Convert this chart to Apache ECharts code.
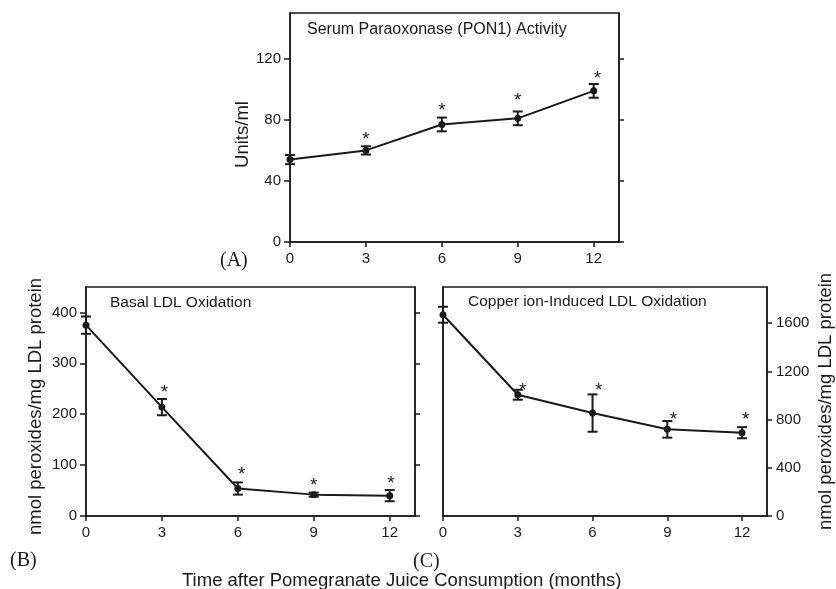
<!DOCTYPE html>
<html>
<head>
<meta charset="utf-8">
<script src="https://cdn.jsdelivr.net/npm/echarts@6/dist/echarts.min.js"></script>
<style>
  html, body { margin: 0; padding: 0; background: #fff; }
  #main { width: 836px; height: 589px; }
</style>
</head>
<body>
<div id="main"></div>
<script>
// 时间点 (months)
var months = [0, 3, 6, 9, 12];
var xTicks = [0, 3, 6, 9, 12];

// (A) Serum PON1 activity, Units/ml
var ponMean = [54, 60, 77, 81, 99];
var ponErr = [3, 2.7, 4.5, 4.5, 4.5];
var ponStarX = [3, 6, 9, 12.15];
var ponStarY = [70, 89, 96, 110];
var ponTicks = [0, 40, 80, 120];

// (B) Basal LDL oxidation
var basalMean = [375, 214, 54, 42, 40];
var basalErr = [17, 16, 12, 4, 11];
var basalStarX = [3.1, 6.15, 9, 12.05];
var basalStarY = [252, 90, 69, 73];
var basalTicks = [0, 100, 200, 300, 400];

// (C) Copper ion-induced LDL oxidation
var copperMean = [1670, 1006, 854, 719, 691];
var copperErr = [66, 41, 155, 69, 46];
var copperStarX = [3.2, 6.25, 9.25, 12.15];
var copperStarY = [1084, 1084, 843, 843];
var copperTicks = [0, 400, 800, 1200, 1600];

var ink = '#1a1a1a';
var sans = 'Liberation Sans, Arial, sans-serif';
var serif = 'Liberation Serif, Times New Roman, serif';

var myChart = echarts.init(document.getElementById('main'));

function pairs(xs, ys) {
    return xs.map(function (x, i) { return [x, ys[i]]; });
}

function errData(mean, err) {
    return months.map(function (m, i) { return [m, mean[i] - err[i], mean[i] + err[i]]; });
}

// 误差线
function errorBars(idx, mean, err) {
    return {
        type: 'custom',
        xAxisIndex: idx,
        yAxisIndex: idx * 2,
        data: errData(mean, err),
        z: 3,
        renderItem: function (params, api) {
            var lo = api.coord([api.value(0), api.value(1)]);
            var hi = api.coord([api.value(0), api.value(2)]);
            var w = 5;
            var st = { stroke: ink, lineWidth: 2 };
            return {
                type: 'group',
                children: [
                    { type: 'line', shape: { x1: lo[0], y1: lo[1], x2: hi[0], y2: hi[1] }, style: st },
                    { type: 'line', shape: { x1: lo[0] - w, y1: lo[1], x2: lo[0] + w, y2: lo[1] }, style: st },
                    { type: 'line', shape: { x1: hi[0] - w, y1: hi[1], x2: hi[0] + w, y2: hi[1] }, style: st }
                ]
            };
        }
    };
}

// 星号
function stars(idx, xs, ys) {
    return {
        type: 'custom',
        xAxisIndex: idx,
        yAxisIndex: idx * 2,
        data: pairs(xs, ys),
        renderItem: function (params, api) {
            var p = api.coord([api.value(0), api.value(1)]);
            return {
                type: 'text',
                style: {
                    text: '*', x: p[0], y: p[1] + 5,
                    align: 'center', verticalAlign: 'middle',
                    font: '19px ' + sans, fill: ink
                }
            };
        }
    };
}

function meanLine(idx, mean) {
    return {
        type: 'line',
        xAxisIndex: idx,
        yAxisIndex: idx * 2,
        data: pairs(months, mean),
        symbol: 'circle',
        symbolSize: 7,
        lineStyle: { color: ink, width: 2 },
        itemStyle: { color: ink },
        z: 4,
        animation: false
    };
}

function plain(v) { return String(v); }

function xAxis(idx) {
    return {
        type: 'value', gridIndex: idx, min: 0, max: 13,
        axisLine: { show: true, onZero: false, lineStyle: { color: ink, width: 1.5 } },
        axisTick: { show: true, length: 5, customValues: xTicks, lineStyle: { color: ink, width: 1.5 } },
        axisLabel: { customValues: xTicks, formatter: plain, color: ink, fontSize: 15, fontFamily: sans, margin: 9 },
        splitLine: { show: false }
    };
}

function yAxes(idx, max, ticks, name, side, nameGap, shift) {
    var base = {
        type: 'value', gridIndex: idx, min: 0, max: max,
        splitLine: { show: false },
        axisLine: { show: true, lineStyle: { color: ink, width: 1.5 } }
    };
    // shift > 0 moves the rotated name downwards
    var nameStyle = { color: ink, fontSize: 18.5, fontFamily: sans, padding: [0, shift * 2, 0, 0] };
    var left = Object.assign({}, base, {
        position: 'left',
        axisTick: { show: side !== 'right', length: 6, customValues: ticks, lineStyle: { color: ink, width: 1.5 } },
        axisLabel: { show: side === 'left', customValues: ticks, formatter: plain, color: ink, fontSize: 15, fontFamily: sans, margin: 9 },
        name: side === 'left' ? name : '',
        nameLocation: 'middle', nameGap: nameGap, nameRotate: 90,
        nameTextStyle: nameStyle
    });
    var right = Object.assign({}, base, {
        position: 'right',
        axisTick: { show: true, length: 5, customValues: ticks, lineStyle: { color: ink, width: 1.5 } },
        axisLabel: { show: side === 'right', customValues: ticks, formatter: plain, color: ink, fontSize: 15, fontFamily: sans, margin: 9 },
        name: side === 'right' ? name : '',
        nameLocation: 'middle', nameGap: nameGap, nameRotate: 90,
        nameTextStyle: nameStyle
    });
    return [left, right];
}

var option = {
    animation: false,
    backgroundColor: '#fff',
    grid: [
        { left: 290, top: 13, width: 329, height: 229, show: true, borderColor: ink, borderWidth: 1.5 },
        { left: 86, top: 287, width: 329, height: 229, show: true, borderColor: ink, borderWidth: 1.5 },
        { left: 443, top: 287, width: 326, height: 229, show: true, borderColor: ink, borderWidth: 1.5 }
    ],
    xAxis: [xAxis(0), xAxis(1), xAxis(2)],
    yAxis: []
        .concat(yAxes(0, 150, ponTicks, 'Units/ml', 'left', 38, 7))
        .concat(yAxes(1, 450, basalTicks, 'nmol peroxides/mg LDL protein', 'left', 41, 5))
        .concat(yAxes(2, 1900, copperTicks, 'nmol peroxides/mg LDL protein', 'right', 49, 0)),
    graphic: [
        { type: 'text', left: 307, top: 22, style: { text: 'Serum Paraoxonase (PON1) Activity', font: '16px ' + sans, fill: ink } },
        { type: 'text', left: 110, top: 295, style: { text: 'Basal LDL Oxidation', font: '15.5px ' + sans, fill: ink } },
        { type: 'text', left: 468, top: 294, style: { text: 'Copper ion-Induced LDL Oxidation', font: '15.5px ' + sans, fill: ink } },
        { type: 'text', left: 220, top: 251, style: { text: '(A)', font: '20px ' + serif, fill: ink } },
        { type: 'text', left: 10, top: 551, style: { text: '(B)', font: '20px ' + serif, fill: ink } },
        { type: 'text', left: 413, top: 552, style: { text: '(C)', font: '20px ' + serif, fill: ink } },
        { type: 'text', left: 182, top: 571, style: { text: 'Time after Pomegranate Juice Consumption (months)', font: '18.5px ' + sans, fill: ink } }
    ],
    series: [
        meanLine(0, ponMean), errorBars(0, ponMean, ponErr), stars(0, ponStarX, ponStarY),
        meanLine(1, basalMean), errorBars(1, basalMean, basalErr), stars(1, basalStarX, basalStarY),
        meanLine(2, copperMean), errorBars(2, copperMean, copperErr), stars(2, copperStarX, copperStarY)
    ]
};

myChart.setOption(option);
</script>
</body>
</html>
